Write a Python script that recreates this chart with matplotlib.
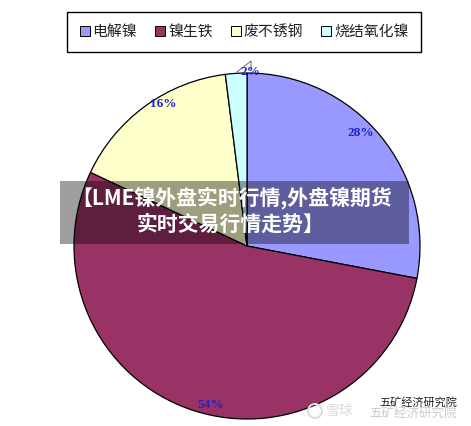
import matplotlib
matplotlib.use("Agg")
import matplotlib.pyplot as plt
from matplotlib.patches import Circle, Rectangle

W, H = 471, 426

categories = ["电解镍", "镍生铁", "废不锈钢", "烧结氧化镍"]
shares = [28, 54, 16, 2]
colors = ["#9999FF", "#993366", "#FFFFCC", "#CCFFFF"]
title_lines = ["【LME镍外盘实时行情,外盘镍期货", "实时交易行情走势】"]

plt.rcParams["font.family"] = ["Noto Sans CJK SC", "DejaVu Sans"]

fig = plt.figure(figsize=(W / 100, H / 100), dpi=100)
ax = fig.add_axes([0, 0, 1, 1])
ax.set_xlim(0, W)
ax.set_ylim(H, 0)
ax.axis("off")

wedges, _ = ax.pie(
    shares,
    colors=colors,
    center=(247, 246),
    radius=173,
    startangle=90,
    counterclock=False,
    wedgeprops={"edgecolor": "black", "linewidth": 0.9},
    frame=False,
)
ax.set_xlim(0, W)
ax.set_ylim(H, 0)
ax.set_aspect("auto")
# pie draws in a y-up sense, the flipped axis mirrors it, so fix the angles
for w in wedges:
    t1, t2 = w.theta1, w.theta2
    w.set_theta1(-t2)
    w.set_theta2(-t1)

# percent labels
label_xy = [(361, 133), (211, 405), (163, 104), (250, 72)]
for (x, y), s in zip(label_xy, shares):
    ax.text(x, y, f"{s}%", color="#2222CC", fontsize=9.5, family="Liberation Serif",
            weight="bold", ha="center", va="center", zorder=5)

# leader line of the 2% label
ax.plot([237, 251, 251], [72, 61, 70], color="#555555", lw=0.6, zorder=4)

leg = ax.legend(
    wedges, categories,
    ncol=4,
    loc="center",
    bbox_to_anchor=(244 / W, 1 - 32 / H),
    fontsize=10.7,
    frameon=True,
    fancybox=False,
    framealpha=1,
    edgecolor="black",
    handlelength=0.68,
    handleheight=0.68,
    handletextpad=0.2,
    columnspacing=1.2,
    borderpad=0.85,
)
leg.get_frame().set_linewidth(1.0)
for t in leg.get_texts():
    t.set_color("#222222")
for h in leg.legend_handles:
    h.set_linewidth(0.7)

# banner over the pie
ax.add_patch(Rectangle((60, 181), 349, 63, facecolor="black", alpha=0.38, edgecolor="none", zorder=6))
ax.text(232, 198, title_lines[0], color="white", fontsize=15, weight="bold",
        ha="center", va="center", zorder=7)
ax.text(231, 224, title_lines[1], color="white", fontsize=15, weight="bold",
        ha="center", va="center", zorder=7)

# watermark
ax.add_patch(Circle((315, 411), 7, facecolor="none", edgecolor="#DDDDDD", lw=1.5, zorder=7))
ax.text(340, 411, "雪球", color="#DDDDDD", fontsize=10, ha="center", va="center", zorder=7)
ax.text(413, 413, "五矿经济研究院", color="#CCCCCC", fontsize=9, ha="center", va="center", zorder=7)
ax.text(418, 402, "五矿经济研究院", color="#222222", fontsize=8, ha="center", va="center", zorder=8)

fig.savefig("out.png", dpi=100)
plt.close(fig)
